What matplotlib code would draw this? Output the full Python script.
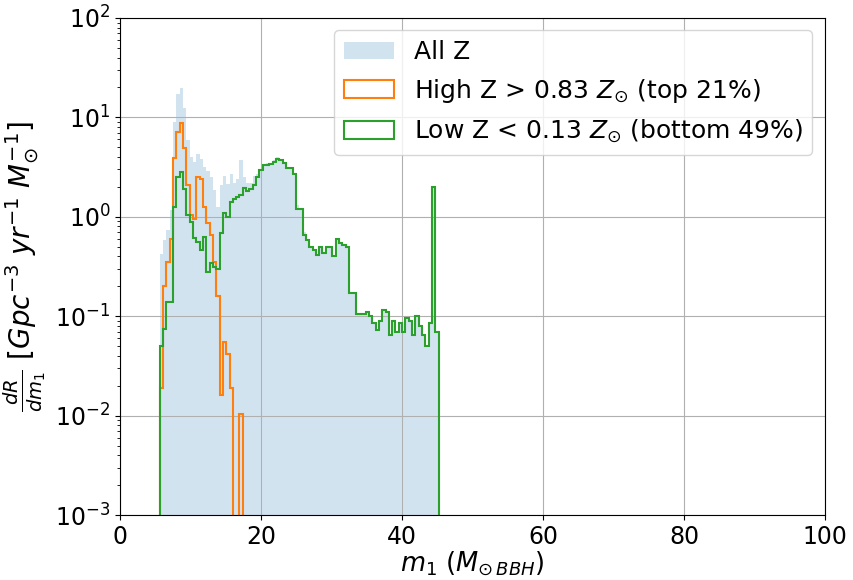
import numpy as np
import matplotlib
matplotlib.use("Agg")
import matplotlib.pyplot as plt

# bin edges of the m1 histogram (84 bins)
edges = np.linspace(5.65, 45.2, 85)

# dR/dm1 per bin
all_z = [0.42, 0.58, 0.74, 1.17, 9.0, 17.0, 19.6, 12.3, 5.9, 4.0,
         3.6, 4.3, 3.8, 3.2, 2.9, 2.5, 1.87, 1.26, 2.1, 2.6,
         2.15, 2.7, 2.2, 2.4, 3.7, 2.5, 2.2, 2.2, 2.6, 2.7,
         3.05, 3.4, 3.45, 3.5, 3.7, 3.95, 3.7, 3.5, 3.1, 3.1,
         2.7, 1.3, 1.2, 0.7, 0.58, 0.50, 0.46, 0.41, 0.5, 0.43,
         0.5, 0.5, 0.40, 0.6, 0.54, 0.52, 0.5, 0.17, 0.17, 0.105,
         0.105, 0.105, 0.11, 0.10, 0.085, 0.072, 0.09, 0.115, 0.11, 0.064,
         0.09, 0.07, 0.085, 0.07, 0.096, 0.09, 0.064, 0.10, 0.08, 0.064,
         0.05, 0.085, 2.0, 0.07]

high_z = [0.019, 0.2, 0.35, 0.6, 3.9, 7.2, 8.7, 4.9, 2.1, 1.04,
          0.95, 2.5, 2.4, 1.25, 0.86, 0.66, 0.35, 0.16, 0.016, 0.055,
          0.042, 0.019, 0.0, 0.0, 0.0105] + [0.0] * 59

low_z = [0.05, 0.075, 0.14, 0.14, 1.26, 2.5, 2.8, 1.9, 1.04, 0.88,
         0.61, 0.56, 0.46, 0.63, 0.28, 0.34, 0.31, 0.30, 0.68, 1.1,
         1.0, 1.4, 1.5, 1.6, 1.65, 1.94, 1.8, 1.9, 2.1, 2.5,
         2.95, 3.3, 3.35, 3.4, 3.6, 3.85, 3.7, 3.5, 3.1, 3.1,
         2.7, 1.2, 1.2, 0.66, 0.58, 0.50, 0.46, 0.41, 0.5, 0.43,
         0.5, 0.5, 0.40, 0.6, 0.54, 0.52, 0.5, 0.17, 0.17, 0.105,
         0.105, 0.105, 0.11, 0.10, 0.085, 0.072, 0.09, 0.115, 0.11, 0.064,
         0.09, 0.07, 0.085, 0.07, 0.096, 0.09, 0.064, 0.10, 0.08, 0.064,
         0.05, 0.085, 2.0, 0.07]

labels = ["All Z",
          r"High Z > 0.83 $Z_{\odot}$ (top 21%)",
          r"Low Z < 0.13 $Z_{\odot}$ (bottom 49%)"]

plt.rcParams["font.size"] = 17

centers = 0.5 * (edges[:-1] + edges[1:])

fig = plt.figure(figsize=(8.54, 5.80), dpi=100)
ax = fig.add_axes([0.1405, 0.112, 0.8255, 0.857])

ax.hist(centers, bins=edges, weights=all_z, color="C0", alpha=0.2,
        log=True, label=labels[0])
ax.hist(centers, bins=edges, weights=high_z, histtype="step", color="C1",
        lw=1.5, log=True, label=labels[1])
ax.hist(centers, bins=edges, weights=low_z, histtype="step", color="C2",
        lw=1.5, log=True, label=labels[2])

ax.set_xlim(0, 100)
ax.set_ylim(1e-3, 1e2)
ax.grid(True)
ax.set_xlabel(r"$m_1$ $(M_{\odot\,BBH})$", fontsize=18.5, labelpad=0)
ax.set_ylabel(r"$\frac{dR}{dm_1}$ [$Gpc^{-3}$ $yr^{-1}$ $M_{\odot}^{-1}$]",
              fontsize=20, labelpad=5)
ax.legend(loc="upper right", fontsize=18)

fig.savefig("out.png", dpi=100)
